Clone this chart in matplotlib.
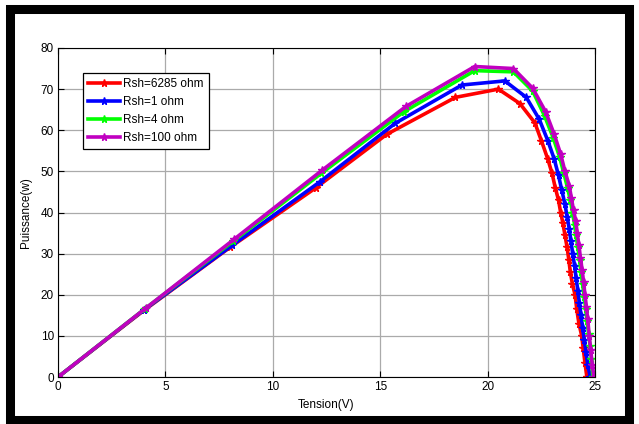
import matplotlib
matplotlib.use("Agg")
import matplotlib.pyplot as plt
from matplotlib.patches import Rectangle

plt.rcParams['font.family'] = ['Liberation Sans', 'DejaVu Sans']

# Tension (V) / Puissance (W) for each shunt resistance
v_6285 = [0, 4.0, 8.0, 12.0, 15.3, 18.5, 20.5, 21.5, 22.2, 22.5, 22.8, 23.0, 23.15, 23.3,
          23.4, 23.5, 23.6, 23.7, 23.78, 23.85, 23.95, 24.07, 24.15, 24.25, 24.38, 24.45,
          24.53, 24.62]
p_6285 = [0, 16.2, 31.5, 46.0, 59.0, 68.0, 70.0, 66.5, 61.8, 57.5, 53.0, 49.5, 46.0, 43.0,
          40.0, 37.5, 34.5, 31.5, 28.5, 25.5, 22.5, 20.0, 16.5, 13.0, 10.0, 7.0, 3.5, 0]

v_1 = [0, 4.0, 8.1, 12.2, 15.7, 18.8, 20.8, 21.8, 22.4, 22.8, 23.1, 23.3, 23.45, 23.6,
       23.7, 23.8, 23.88, 23.96, 24.05, 24.12, 24.2, 24.27, 24.35, 24.42, 24.5, 24.58,
       24.66, 24.78]
p_1 = [0, 16.3, 32.0, 47.5, 61.7, 71.0, 72.0, 68.0, 62.7, 57.5, 53.0, 49.0, 45.5, 42.0,
       39.0, 36.0, 33.0, 30.0, 27.0, 24.0, 21.0, 18.0, 15.0, 12.0, 9.0, 6.0, 3.0, 0]

v_4 = [0, 4.05, 8.15, 12.25, 16.1, 19.4, 21.2, 22.1, 22.65, 23.05, 23.35, 23.55, 23.72,
       23.85, 23.95, 24.05, 24.12, 24.2, 24.28, 24.35, 24.42, 24.5, 24.57, 24.63, 24.7,
       24.77, 24.83, 24.9]
p_4 = [0, 16.6, 33.0, 49.5, 64.5, 74.5, 74.2, 69.5, 63.5, 58.2, 53.5, 49.5, 46.0, 43.0,
       40.0, 37.0, 34.5, 31.5, 28.5, 25.5, 22.5, 19.5, 16.5, 13.5, 10.5, 7.5, 4.5, 0]

v_100 = [0, 4.1, 8.2, 12.3, 16.2, 19.4, 21.2, 22.1, 22.7, 23.1, 23.4, 23.6, 23.8, 23.9,
         24.0, 24.1, 24.17, 24.25, 24.32, 24.4, 24.47, 24.53, 24.6, 24.66, 24.73, 24.8,
         24.87, 24.95]
p_100 = [0, 16.8, 33.5, 50.3, 65.8, 75.5, 75.0, 70.2, 64.5, 59.0, 54.2, 50.0, 46.5, 43.5,
         40.5, 38.0, 35.0, 32.0, 29.0, 26.0, 23.0, 20.0, 17.0, 14.0, 10.0, 6.5, 3.0, 0]

series = [
    (v_6285, p_6285, '#ff0000', 'Rsh=6285 ohm'),
    (v_1, p_1, '#0000ff', 'Rsh=1 ohm'),
    (v_4, p_4, '#00ff00', 'Rsh=4 ohm'),
    (v_100, p_100, '#c000c0', 'Rsh=100 ohm'),
]

fig = plt.figure(figsize=(6.39, 4.24), dpi=100)
ax = fig.add_axes([0.0908, 0.1108, 0.8404, 0.776])

for v, p, c, lab in series:
    ax.plot(v, p, color=c, lw=2.6, marker='*', ms=5.5, mew=1, label=lab)

ax.set_xlim(0, 25)
ax.set_ylim(0, 80)
ax.set_xticks(range(0, 26, 5))
ax.set_yticks(range(0, 81, 10))
ax.grid(True, color='#aaaaaa', lw=0.9, ls='-')
ax.set_axisbelow(True)
ax.tick_params(direction='in', top=True, right=True, labelsize=8.5, length=4, pad=3)
for s in ax.spines.values():
    s.set_linewidth(0.8)

ax.set_xlabel('Tension(V)', fontsize=8.5, labelpad=4)
ax.set_ylabel('Puissance(w)', fontsize=8.5, labelpad=6)

leg = ax.legend(loc='upper left', bbox_to_anchor=(0.046, 0.925), fontsize=8.5,
                handlelength=2.7, handletextpad=0.3, labelspacing=0.5,
                borderpad=0.45, borderaxespad=0, fancybox=False, framealpha=1)
leg.get_frame().set_edgecolor('black')
leg.get_frame().set_linewidth(0.9)

# black frame around the picture
fig.add_artist(Rectangle((9.5 / 639, 4 / 424), 619.5 / 639, 411 / 424,
                         transform=fig.transFigure, fill=False,
                         edgecolor='black', lw=6.5))

plt.savefig('out.png', dpi=100)
